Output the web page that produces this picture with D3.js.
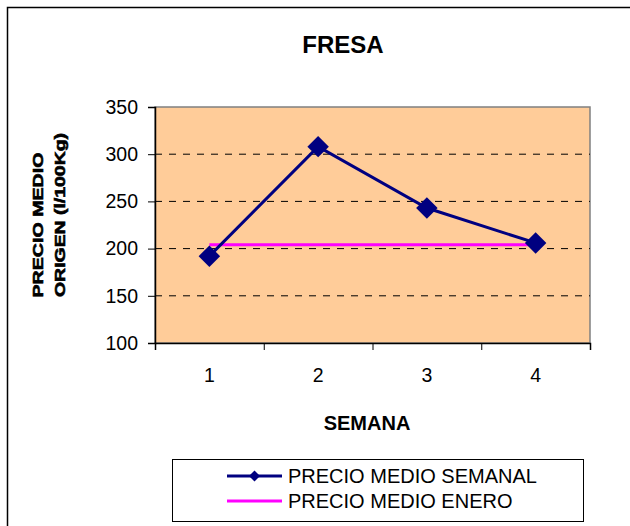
<!DOCTYPE html>
<meta charset="utf-8">
<title>FRESA</title>
<script src="https://d3js.org/d3.v7.min.js"></script>
<style>
  body { margin: 0; background: #fff; }
  text { font-family: "Liberation Sans", Arial, sans-serif; fill: #000; }
</style>
<body>
<div id="chart"></div>
<script>
// data
var semanas = [1, 2, 3, 4];
var precioSemanal = [192, 308, 243, 206];
var precioEnero = [204, 204, 204, 204];
var yTicks = [100, 150, 200, 250, 300, 350];

var W = 630, H = 526;
var plot = {left: 155, right: 590, top: 107, bottom: 343};

var svg = d3.select("#chart").append("svg")
    .attr("width", W)
    .attr("height", H);

// outer chart border (only left and top visible)
svg.append("path")
    .attr("d", "M7.5," + H + "V7.5H" + W)
    .attr("fill", "none")
    .attr("stroke", "#000")
    .attr("stroke-width", 1.5);

var x = d3.scaleLinear().domain([0.5, 4.5]).range([plot.left, plot.right]);
var y = d3.scaleLinear().domain([100, 350]).range([plot.bottom, plot.top]);

// plot area
svg.append("rect")
    .attr("x", plot.left)
    .attr("y", plot.top)
    .attr("width", plot.right - plot.left)
    .attr("height", plot.bottom - plot.top)
    .attr("fill", "#FFCC99")
    .attr("stroke", "#808080")
    .attr("stroke-width", 1.5);

// dashed gridlines
svg.append("g").selectAll("line")
    .data(yTicks.filter(function(d) { return d > 100 && d < 350; }))
    .join("line")
    .attr("x1", plot.left)
    .attr("x2", plot.right)
    .attr("y1", function(d) { return y(d); })
    .attr("y2", function(d) { return y(d); })
    .attr("stroke", "#000")
    .attr("stroke-dasharray", "7,7");

// Y axis
var yAxis = svg.append("g")
    .attr("transform", "translate(" + plot.left + ",0)")
    .call(d3.axisLeft(y).tickValues(yTicks).tickSize(7).tickPadding(10));
yAxis.selectAll("text")
    .style("font-family", "'Liberation Sans', Arial, sans-serif")
    .style("font-size", "19.5px");
yAxis.select(".domain").attr("stroke-width", 1.5);

// X axis: ticks at category boundaries, labels at centres
var xAxis = svg.append("g")
    .attr("transform", "translate(0," + plot.bottom + ")")
    .call(d3.axisBottom(x).tickValues([0.5, 1.5, 2.5, 3.5, 4.5]).tickSize(7).tickFormat(""));
xAxis.select(".domain").attr("stroke-width", 1.5);

svg.append("g").selectAll("text")
    .data(semanas)
    .join("text")
    .attr("x", function(d) { return x(d); })
    .attr("y", 382)
    .attr("text-anchor", "middle")
    .style("font-size", "19.5px")
    .text(function(d) { return d; });

// magenta reference line
var line = d3.line()
    .x(function(d, i) { return x(semanas[i]); })
    .y(function(d) { return y(d); });

svg.append("path")
    .datum(precioEnero)
    .attr("d", line)
    .attr("fill", "none")
    .attr("stroke", "#FF00FF")
    .attr("stroke-width", 3);

// weekly price line
svg.append("path")
    .datum(precioSemanal)
    .attr("d", line)
    .attr("fill", "none")
    .attr("stroke", "#000080")
    .attr("stroke-width", 3);

var diamond = d3.symbol().type(d3.symbolSquare).size(230);
svg.append("g").selectAll("path")
    .data(precioSemanal)
    .join("path")
    .attr("d", diamond)
    .attr("transform", function(d, i) {
      return "translate(" + x(semanas[i]) + "," + y(d) + ") rotate(45)";
    })
    .attr("fill", "#000080");

// title
svg.append("text")
    .attr("x", 343)
    .attr("y", 53)
    .attr("text-anchor", "middle")
    .style("font-size", "24px")
    .style("font-weight", "bold")
    .text("FRESA");

// x axis title
svg.append("text")
    .attr("x", 367)
    .attr("y", 430)
    .attr("text-anchor", "middle")
    .style("font-size", "20px")
    .style("font-weight", "bold")
    .text("SEMANA");

// y axis title, two lines
var yTitle = [["PRECIO MEDIO", 43, 225, 145], ["ORIGEN (l/100Kg)", 65, 215, 164]];
svg.append("g").selectAll("text")
    .data(yTitle)
    .join("text")
    .attr("transform", function(d) { return "translate(" + d[1] + "," + d[2] + ") rotate(-90)"; })
    .attr("text-anchor", "middle")
    .attr("textLength", function(d) { return d[3]; })
    .attr("lengthAdjust", "spacingAndGlyphs")
    .attr("stroke", "#000")
    .attr("stroke-width", 0.6)
    .style("font-size", "15px")
    .style("font-weight", "900")
    .text(function(d) { return d[0]; });

// legend
var legend = svg.append("g");
legend.append("rect")
    .attr("x", 172.5)
    .attr("y", 459.5)
    .attr("width", 411)
    .attr("height", 62)
    .attr("fill", "#fff")
    .attr("stroke", "#000")
    .attr("stroke-width", 1);

var legendItems = [
  {name: "PRECIO MEDIO SEMANAL", color: "#000080", marker: true, y: 476},
  {name: "PRECIO MEDIO ENERO", color: "#FF00FF", marker: false, y: 501}
];
legendItems.forEach(function(it) {
  legend.append("line")
      .attr("x1", 227).attr("x2", 282)
      .attr("y1", it.y).attr("y2", it.y)
      .attr("stroke", it.color)
      .attr("stroke-width", 3);
  if (it.marker) {
    legend.append("path")
        .attr("d", d3.symbol().type(d3.symbolSquare).size(60))
        .attr("transform", "translate(254.5," + it.y + ") rotate(45)")
        .attr("fill", it.color);
  }
  legend.append("text")
      .attr("x", 288)
      .attr("y", it.y + 7)
      .style("font-size", "20px")
      .text(it.name);
});
</script>
</body>
